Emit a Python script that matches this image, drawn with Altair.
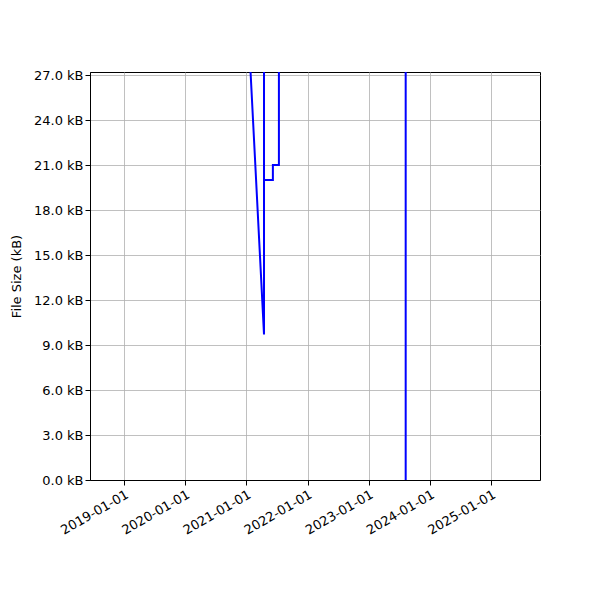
import altair as alt
import pandas as pd

# data (values above the top of the axis are clipped)
dates = ["2021-01-22", "2021-04-16", "2021-04-16", "2021-04-16", "2021-06-08",
         "2021-06-08", "2021-07-14", "2021-07-14", "2023-08-10", "2023-08-10"]
sizes_kb = [28.0, 9.7, 28.0, 20.0, 20.0, 21.0, 21.0, 28.0, 28.0, 0.0]
order = list(range(len(dates)))

years = [2019, 2020, 2021, 2022, 2023, 2024, 2025]
y_ticks = [0, 3, 6, 9, 12, 15, 18, 21, 24, 27]

df = pd.DataFrame({"date": dates, "size": sizes_kb, "idx": order})

font = "DejaVu Sans"

chart = alt.Chart(df).mark_line(color="#0000ff", strokeWidth=2, clip=True).encode(
    x=alt.X("date:T",
            scale=alt.Scale(type="utc",
                            domain=[alt.DateTime(year=2018, month=6, date=12, utc=True),
                                    alt.DateTime(year=2025, month=10, date=20, utc=True)]),
            axis=alt.Axis(values=[alt.DateTime(year=y, month=1, date=1, utc=True) for y in years],
                          format="%Y-%m-%d", labelAngle=-30, labelAlign="right",
                          labelBaseline="top", title=None, tickSize=5,
                          labelPadding=3, labelOverlap=False)),
    y=alt.Y("size:Q",
            scale=alt.Scale(domain=[0, 27.2], nice=False, zero=False),
            axis=alt.Axis(values=y_ticks,
                          labelExpr="format(datum.value, '.1f') + ' kB'",
                          title="File Size (kB)", tickSize=5, titlePadding=10,
                          labelOverlap=False)),
    order="idx:Q",
).properties(
    width=450, height=408,
    autosize=alt.AutoSizeParams(type="none"),
    padding={"left": 82, "top": 64, "right": 52, "bottom": 112},
).configure_view(
    stroke="black", strokeWidth=1
).configure_axis(
    domainColor="black", tickColor="black", gridColor="#b0b0b0", gridWidth=0.8,
    labelColor="black", titleColor="black", labelFont=font, titleFont=font,
    labelFontSize=13, titleFontSize=13, titleFontWeight="normal", grid=True,
)

chart.save("out.html", embed_options={"renderer": "svg", "actions": False})
